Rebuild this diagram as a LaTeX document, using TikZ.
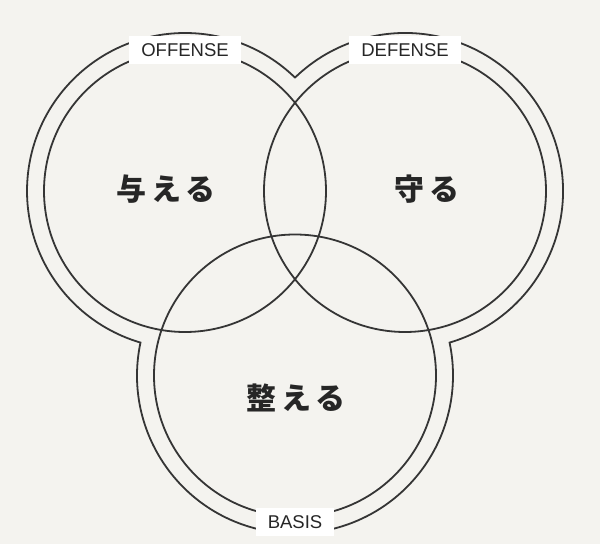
\documentclass[tikz,border=0pt]{standalone}
\usepackage{fontspec}
\setmainfont{Liberation Sans}
\newfontfamily\cjk{Noto Sans CJK JP}[LetterSpace=18]
\usetikzlibrary{positioning}
\definecolor{paper}{HTML}{F4F3EF}
\definecolor{ink}{HTML}{353535}

\begin{document}
\begin{tikzpicture}[
    x=1pt, y=1pt,
    ring/.style={draw=ink, line width=1.8pt},
    tag/.style={fill=white, inner xsep=12pt, inner ysep=7pt, text=black!85, font=\fontsize{18.5}{18.5}\selectfont},
    word/.style={text=black!85, font=\cjk\bfseries\fontsize{30}{30}\selectfont}
]
    \fill[paper] (0,0) rectangle (600,544);

    % Centres
    \coordinate (off) at (185,353);
    \coordinate (def) at (405,353);
    \coordinate (bas) at (295,168.5);
    \coordinate (top) at (295,466.42);

    % Inner circles
    \draw[ring] (off) circle[radius=141];
    \draw[ring] (def) circle[radius=141];
    \draw[ring] (bas) circle[radius=141];

    % Outer contour
    \draw[ring] (top) arc[start angle=45.88, end angle=253.63, radius=158]
        arc[start angle=167.98, end angle=372.02, radius=158]
        arc[start angle=-73.63, end angle=134.12, radius=158] -- cycle;

    % Tags
    \node[tag] (offense) at (185,494) {OFFENSE};
    \node[tag] (defense) at (405,494) {DEFENSE};
    \node[tag] (basis) at (295,22) {BASIS};

    % Words
    \node[word] (give) at (166,355) {与える};
    \node[word] (guard) at (427,355) {守る};
    \node[word] (tune) at (296,146) {整える};

\end{tikzpicture}
\end{document}
